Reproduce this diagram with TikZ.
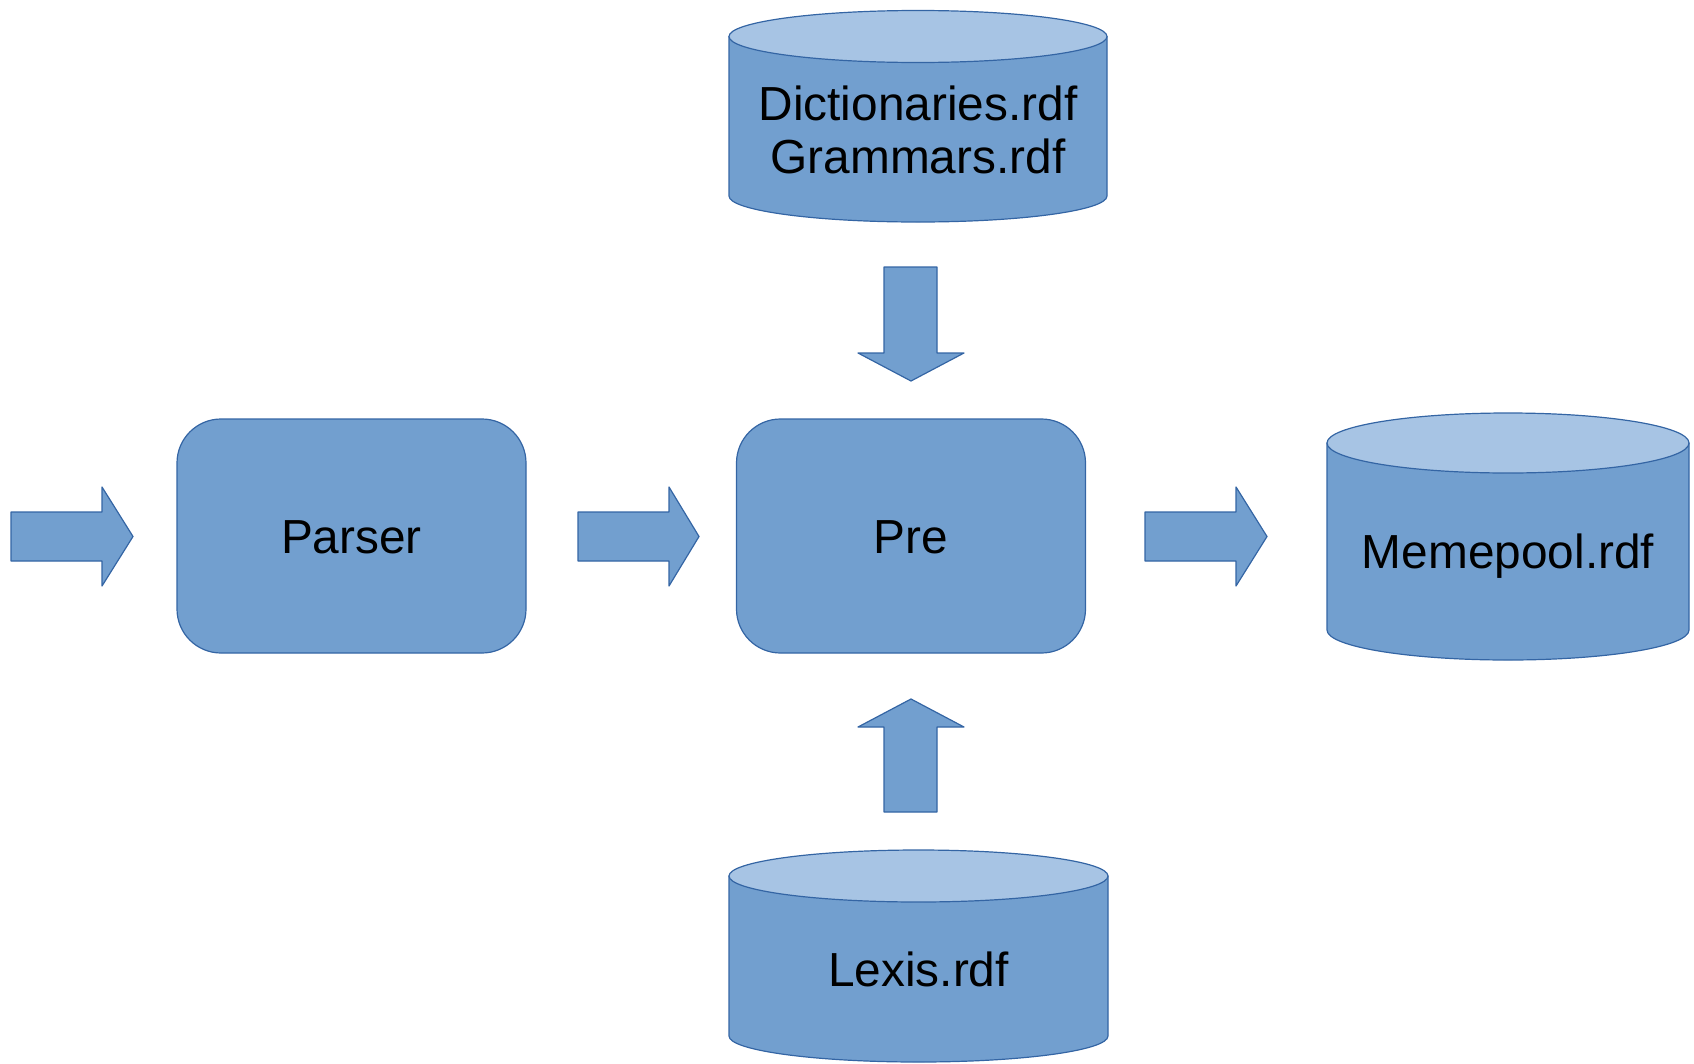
\documentclass[tikz,border=0pt]{standalone}
\usepackage{fontspec}
\setmainfont{Liberation Sans}
\definecolor{boxblue}{RGB}{114,159,207}
\definecolor{topblue}{RGB}{167,196,228}
\definecolor{edgeblue}{RGB}{52,101,164}
\tikzset{
  shapefill/.style={fill=boxblue, draw=edgeblue, line width=1.2pt, line join=round},
  topfill/.style={fill=topblue, draw=edgeblue, line width=1.2pt},
  lbl/.style={font=\fontsize{47.8}{53}\selectfont, text=black, inner sep=0pt, anchor=base},
  procbox/.style={shapefill, rounded corners=44pt, minimum width=349pt, minimum height=234pt, inner sep=0pt, anchor=center}
}
% cylinder: #1 centre x, #2 x radius, #3 top ellipse y, #4 bottom ellipse y, #5 y radius
\newcommand\mycyl[5]{%
  \path[shapefill] (#1-#2,#3) -- (#1-#2,#4)
    arc[start angle=180, end angle=360, x radius=#2pt, y radius=#5pt]
    -- (#1+#2,#3) -- cycle;
  \path[topfill] (#1,#3) ellipse[x radius=#2pt, y radius=#5pt];
}
% right block arrow: #1 shaft start x, #2 head start x, #3 tip x
\newcommand\myrarrow[3]{%
  \path[shapefill] (#1,512) -- (#2,512) -- (#2,487) -- (#3,536.5) -- (#2,586) -- (#2,561) -- (#1,561) -- cycle;
}
\begin{document}
\begin{tikzpicture}[x=1pt,y=-1pt]
\useasboundingbox (0,0) rectangle (1694,1063);

% cylinders
\mycyl{918}{189}{36.5}{196}{26}
\node[lbl] (dict) at (918,120) {Dictionaries.rdf};
\node[lbl] (gram) at (918,173) {Grammars.rdf};

\mycyl{918.5}{189.5}{876}{1036}{26}
\node[lbl] (lexis) at (918.5,986) {Lexis.rdf};

\mycyl{1508}{181}{443}{630}{30}
\node[lbl] (meme) at (1508,568) {Memepool.rdf};

% process boxes
\node[procbox] (parser) at (351.5,536) {};
\node[lbl] (parserlbl) at (351.5,553) {Parser};
\node[procbox] (pre) at (911,536) {};
\node[lbl] (prelbl) at (911,553) {Pre};

% horizontal block arrows
\myrarrow{11}{102}{133}
\myrarrow{578}{669}{699}
\myrarrow{1145}{1236}{1267}

% down arrow
\path[shapefill] (884,267) -- (937,267) -- (937,353) -- (964,353) -- (911,381) -- (858,353) -- (884,353) -- cycle;
% up arrow
\path[shapefill] (884,812) -- (937,812) -- (937,727) -- (964,727) -- (911,699) -- (858,727) -- (884,727) -- cycle;
\end{tikzpicture}
\end{document}
